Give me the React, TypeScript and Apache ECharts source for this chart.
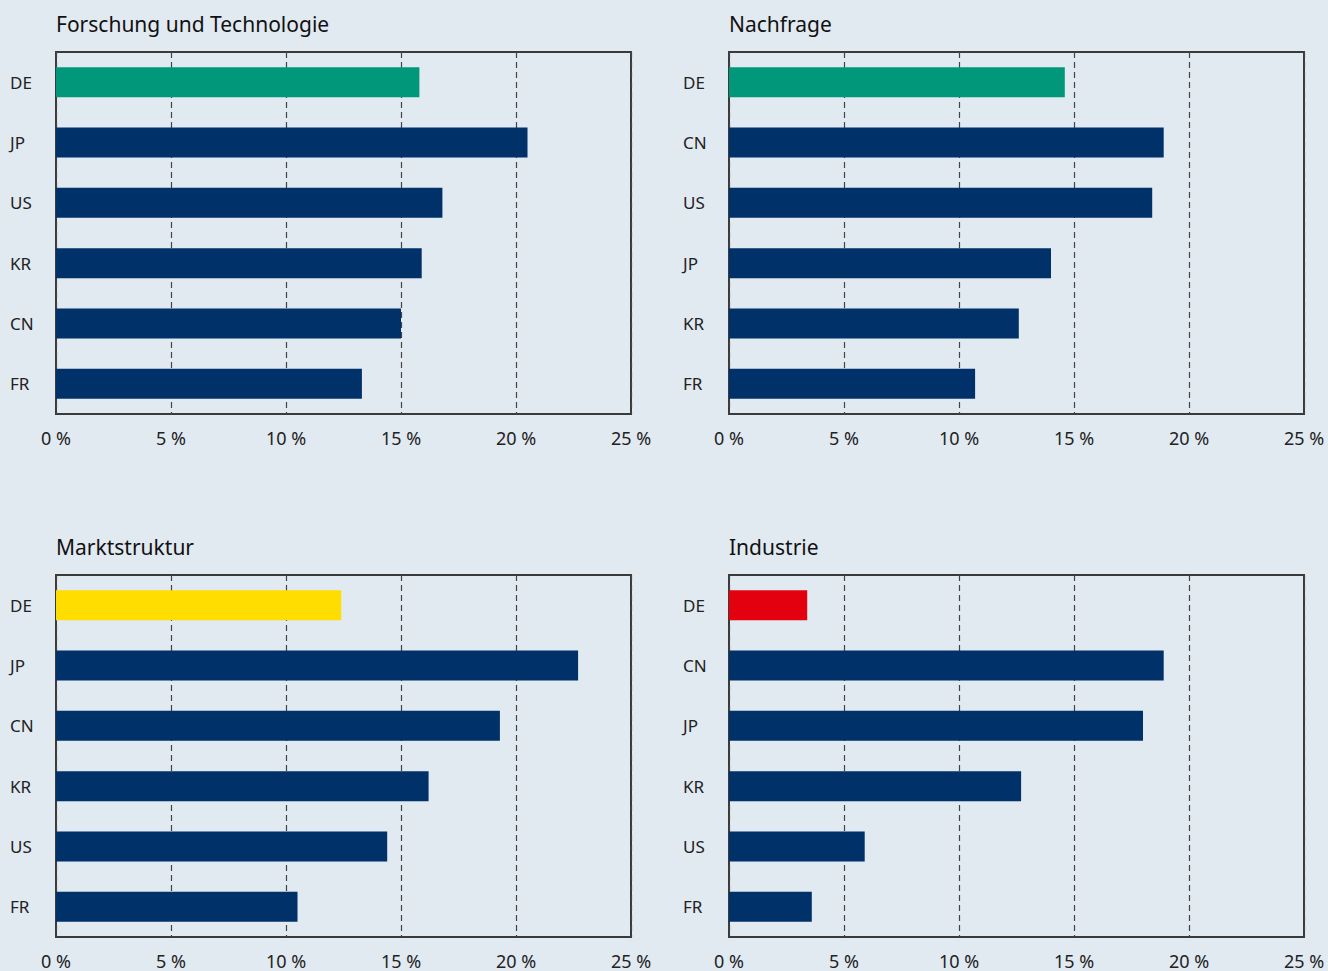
import React, { useEffect, useRef } from "react";
import * as echarts from "echarts";

const titles = ["Forschung und Technologie", "Nachfrage", "Marktstruktur", "Industrie"];

const catsFT = ["DE", "JP", "US", "KR", "CN", "FR"];
const valsFT = [15.8, 20.5, 16.8, 15.9, 15.0, 13.3];

const catsNF = ["DE", "CN", "US", "JP", "KR", "FR"];
const valsNF = [14.6, 18.9, 18.4, 14.0, 12.6, 10.7];

const catsMS = ["DE", "JP", "CN", "KR", "US", "FR"];
const valsMS = [12.4, 22.7, 19.3, 16.2, 14.4, 10.5];

const catsIN = ["DE", "CN", "JP", "KR", "US", "FR"];
const valsIN = [3.4, 18.9, 18.0, 12.7, 5.9, 3.6];

const deColors = ["#00977a", "#00977a", "#ffdd00", "#e3000f"];
const navy = "#003168";

const panels = [
  { cats: catsFT, vals: valsFT },
  { cats: catsNF, vals: valsNF },
  { cats: catsMS, vals: valsMS },
  { cats: catsIN, vals: valsIN },
];

const lefts = [56, 729, 56, 729];
const tops = [52, 52, 575, 575];

export default function App() {
  const ref = useRef<HTMLDivElement>(null);
  useEffect(() => {
    if (!ref.current) return;
    const chart = echarts.init(ref.current, null, { renderer: "svg" });
    const font = "'Noto Sans', sans-serif";
    const option: any = {
      animation: false,
      backgroundColor: "#e1e9f1",
      title: titles.map((t, i) => ({
        text: t,
        left: lefts[i] - 5,
        top: tops[i] - 44,
        textStyle: { fontSize: 21, fontWeight: "normal", color: "#111", fontFamily: font },
      })),
      grid: panels.map((_, i) => ({
        left: lefts[i],
        top: tops[i],
        width: 575,
        height: 362,
        show: true,
        backgroundColor: "transparent",
        borderColor: "#3a3a3a",
        borderWidth: 2,
      })),
      xAxis: panels.map((_, i) => ({
        type: "value",
        gridIndex: i,
        min: 0,
        max: 25,
        interval: 5,
        axisLine: { show: false },
        axisTick: { show: false },
        axisLabel: {
          formatter: "{value} %",
          fontSize: 18,
          color: "#222",
          fontFamily: font,
          margin: 15,
        },
        splitLine: { show: true, lineStyle: { type: [6, 4], color: "#444", width: 1.2 } },
      })),
      yAxis: panels.map((p, i) => ({
        type: "category",
        gridIndex: i,
        data: p.cats,
        inverse: true,
        axisLine: { show: false },
        axisTick: { show: false },
        axisLabel: {
          align: "left",
          margin: 46,
          fontSize: 17,
          color: "#222",
          fontFamily: font,
          padding: [0, 0, 4, 0],
        },
        splitLine: { show: false },
      })),
      series: panels.map((p, i) => ({
        type: "bar",
        xAxisIndex: i,
        yAxisIndex: i,
        barWidth: 30,
        data: p.vals.map((v, j) => ({
          value: v,
          itemStyle: { color: j === 0 ? deColors[i] : navy },
        })),
      })),
    };
    chart.setOption(option);
    return () => chart.dispose();
  }, []);
  return (
    <div
      ref={ref}
      style={{ position: "fixed", left: 0, top: 0, width: 1328, height: 971 }}
    />
  );
}
